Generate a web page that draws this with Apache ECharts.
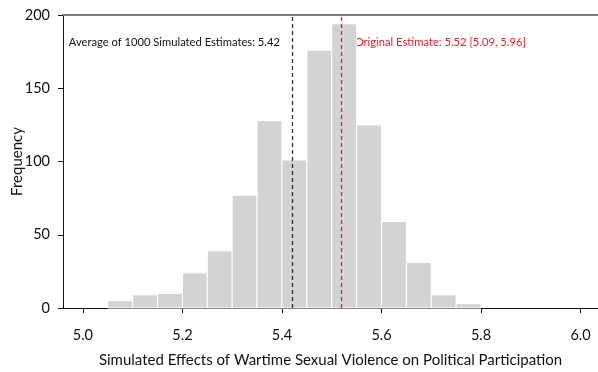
<!DOCTYPE html>
<html>
<head>
<meta charset="utf-8">
<script src="https://cdn.jsdelivr.net/npm/echarts@6/dist/echarts.min.js"></script>
<style>
  html, body { margin: 0; padding: 0; background: #fff; }
  #chart { width: 598px; height: 372px; }
</style>
</head>
<body>
<div id="chart"></div>
<script>
// Histogram bin edges (width 0.05) and counts of the simulated estimates
const binEdges = [5.05, 5.10, 5.15, 5.20, 5.25, 5.30, 5.35, 5.40, 5.45, 5.50, 5.55, 5.60, 5.65, 5.70, 5.75, 5.80];
const frequencies = [5, 9, 10, 24, 39, 77, 128, 101, 176, 194, 125, 59, 31, 9, 3];
const xTicks = [5.0, 5.2, 5.4, 5.6, 5.8, 6.0];
const yTicks = [0, 50, 100, 150, 200];

// Reference lines
const simulatedMean = 5.42;
const originalEstimate = 5.52;
const originalCI = [5.09, 5.96];
const nSimulations = 1000;
const annotationLevel = 181;   // frequency height where the annotations sit

const bars = frequencies.map((f, i) => [binEdges[i], binEdges[i + 1], f]);

const FONT = 'Lato';
const INK = '#111111';
const RED = '#dc2329';

const chart = echarts.init(document.getElementById('chart'), null, { renderer: 'canvas' });

const xRange = { min: 4.96, max: 6.035 };

chart.setOption({
  animation: false,
  grid: { left: 63, right: 0, top: 15, bottom: 64, containLabel: false, outerBoundsMode: 'none' },
  xAxis: [{
    type: 'value',
    min: xRange.min,
    max: xRange.max,
    position: 'bottom',
    axisLine: { onZero: false, lineStyle: { color: INK, width: 1 } },
    axisTick: { show: true, customValues: xTicks, length: 5, lineStyle: { color: INK } },
    axisLabel: {
      customValues: xTicks,
      formatter: v => v.toFixed(1),
      margin: 20,
      fontFamily: FONT, fontSize: 14.5, color: INK
    },
    splitLine: { show: false },
    name: 'Simulated Effects of Wartime Sexual Violence on Political Participation',
    nameLocation: 'middle',
    nameGap: 45,
    nameMoveOverlap: false,
    nameTextStyle: { fontFamily: FONT, fontSize: 15, color: INK }
  }, {
    type: 'value',
    min: xRange.min,
    max: xRange.max,
    position: 'top',
    axisLine: { show: true, onZero: false, lineStyle: { color: '#808080', width: 2 } },
    axisTick: { show: false },
    axisLabel: { show: false },
    splitLine: { show: false }
  }],
  yAxis: {
    type: 'value',
    min: yTicks[0],
    max: yTicks[yTicks.length - 1],
    interval: 50,
    axisLine: { show: true, lineStyle: { color: INK, width: 1 } },
    axisTick: { show: true, length: 5, lineStyle: { color: INK } },
    axisLabel: { margin: 13, fontFamily: FONT, fontSize: 14.5, color: INK },
    splitLine: { show: false },
    name: 'Frequency',
    nameLocation: 'middle',
    nameGap: 38,
    nameRotate: 90,
    nameMoveOverlap: false,
    nameTextStyle: { fontFamily: FONT, fontSize: 15, color: INK }
  },
  series: [{
    type: 'custom',
    xAxisIndex: 0,
    renderItem: (params, api) => {
      const topLeft = api.coord([api.value(0), api.value(2)]);
      const bottomRight = api.coord([api.value(1), 0]);
      return {
        type: 'rect',
        shape: {
          x: topLeft[0],
          y: topLeft[1],
          width: bottomRight[0] - topLeft[0],
          height: bottomRight[1] - topLeft[1]
        },
        style: { fill: '#d3d3d3', stroke: '#ffffff', lineWidth: 1 }
      };
    },
    encode: { x: [0, 1], y: 2 },
    data: bars,
    z: 2,
    markLine: {
      silent: true,
      symbol: 'none',
      label: { show: false },
      data: [
        { xAxis: simulatedMean, lineStyle: { color: '#333333', type: [4, 3], width: 1.3 } },
        { xAxis: originalEstimate, lineStyle: { color: '#e8262e', type: [4, 3], width: 1.3 } }
      ]
    }
  }]
});

// Annotation texts anchored to the reference lines
const meanPx = chart.convertToPixel({ gridIndex: 0 }, [simulatedMean, annotationLevel]);
const estPx = chart.convertToPixel({ gridIndex: 0 }, [originalEstimate, annotationLevel]);

chart.setOption({
  graphic: [{
    type: 'text',
    x: meanPx[0] - 12,
    y: meanPx[1],
    style: {
      text: 'Average of ' + nSimulations + ' Simulated Estimates: ' + simulatedMean.toFixed(2),
      fontFamily: FONT, fontSize: 11.2, fill: INK,
      align: 'right', verticalAlign: 'middle'
    }
  }, {
    type: 'text',
    x: estPx[0] + 13,
    y: estPx[1],
    style: {
      text: 'Original Estimate: ' + originalEstimate.toFixed(2) + ' [' + originalCI[0].toFixed(2) + ', ' + originalCI[1].toFixed(2) + ']',
      fontFamily: FONT, fontSize: 11.2, fill: RED,
      align: 'left', verticalAlign: 'middle'
    }
  }]
});
</script>
</body>
</html>
